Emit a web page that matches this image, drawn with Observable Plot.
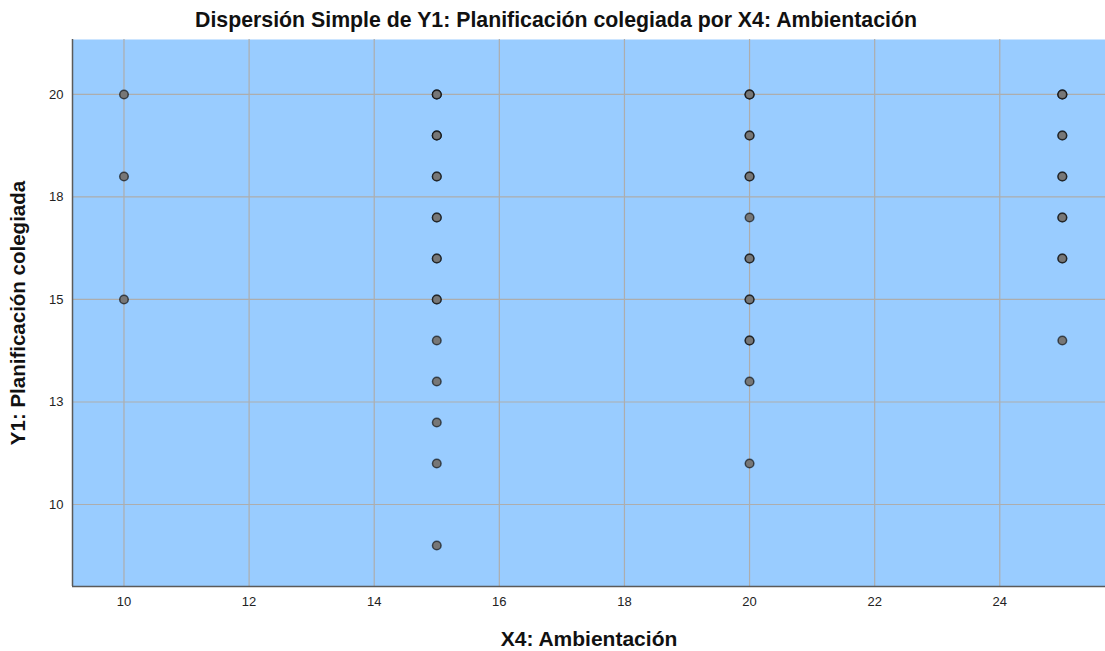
<!DOCTYPE html>
<html>
<head>
<meta charset="utf-8">
<script src="https://cdn.jsdelivr.net/npm/d3@7"></script>
<script src="https://cdn.jsdelivr.net/npm/@observablehq/plot@0.6"></script>
<style>
  body { margin: 0; background: #fff; font-family: "Liberation Sans", Arial, sans-serif; }
  #wrap { position: relative; width: 1105px; height: 651px; }
  #title { position: absolute; left: 0; top: 8px; width: 1112px; text-align: center; font-size: 21.3px; font-weight: bold; color: #111; line-height: 24px; }
  #chart { position: absolute; left: 0; top: 0; }
</style>
</head>
<body>
<div id="wrap">
  <div id="chart"></div>
  <div id="title">Dispersión Simple de Y1: Planificación colegiada por X4: Ambientación</div>
</div>
<script>
// Data (x = X4: Ambientación, y = Y1: Planificación colegiada, n = overlapping cases estimate)
const xValues = [10, 10, 10,
                 15, 15, 15, 15, 15, 15, 15, 15, 15, 15, 15,
                 20, 20, 20, 20, 20, 20, 20, 20, 20,
                 25, 25, 25, 25, 25, 25];
const yValues = [20, 18, 15,
                 20, 19, 18, 17, 16, 15, 14, 13, 12, 11, 9,
                 20, 19, 18, 17, 16, 15, 14, 13, 11,
                 20, 19, 18, 17, 16, 14];
const counts  = [1, 1, 1,
                 3, 3, 2, 2, 2, 2, 1, 1, 1, 1, 1,
                 3, 2, 2, 1, 2, 2, 2, 1, 1,
                 3, 2, 2, 2, 2, 1];
const xTicks = [10, 12, 14, 16, 18, 20, 22, 24];
const yTicks = [10, 12.5, 15, 17.5, 20];
const yTickLabels = ["10", "13", "15", "18", "20"];
const xLabel = "X4: Ambientación";
const yLabel = "Y1: Planificación colegiada";

const rows = [];
xValues.forEach((x, i) => {
  for (let k = 0; k < counts[i]; k++) rows.push({x, y: yValues[i]});
});

const xDomain = [9.177, 25.69];
const yDomain = [8.0, 21.34];

const chart = Plot.plot({
  width: 1105,
  height: 651,
  marginTop: 39,
  marginBottom: 65,
  marginLeft: 72,
  marginRight: 0,
  style: {fontFamily: "'Liberation Sans', Arial, sans-serif", background: "transparent"},
  x: {domain: xDomain, label: null},
  y: {domain: yDomain, label: null},
  marks: [
    Plot.frame({fill: "#99CCFF", stroke: null}),
    Plot.ruleX(xTicks, {stroke: "#adadad", strokeWidth: 1.2}),
    Plot.ruleY(yTicks, {stroke: "#adadad", strokeWidth: 1.2}),
    Plot.ruleX([xDomain[0]], {stroke: "#5a5a5a", strokeWidth: 1.5}),
    Plot.ruleY([yDomain[0]], {stroke: "#5a5a5a", strokeWidth: 1.5}),
    Plot.axisX(xTicks, {tickSize: 0, tickPadding: 10, fontSize: 13, fill: "#222", label: null}),
    Plot.axisY(yTicks, {tickSize: 0, tickPadding: 9, fontSize: 13, fill: "#222", label: null,
      tickFormat: (d) => yTickLabels[yTicks.indexOf(d)]}),
    Plot.dot(rows, {x: "x", y: "y", r: 4.3, fill: "#777", stroke: "#000", strokeOpacity: 0.6, strokeWidth: 1.5}),
    Plot.text([xLabel], {frameAnchor: "bottom", dy: 59, fontSize: 21, fontWeight: "bold", fill: "#111", textAnchor: "middle"}),
    Plot.text([yLabel], {frameAnchor: "left", dx: -54, rotate: -90, fontSize: 20.5, fontWeight: "bold", fill: "#111", textAnchor: "middle"})
  ]
});
document.getElementById("chart").appendChild(chart);
</script>
</body>
</html>
